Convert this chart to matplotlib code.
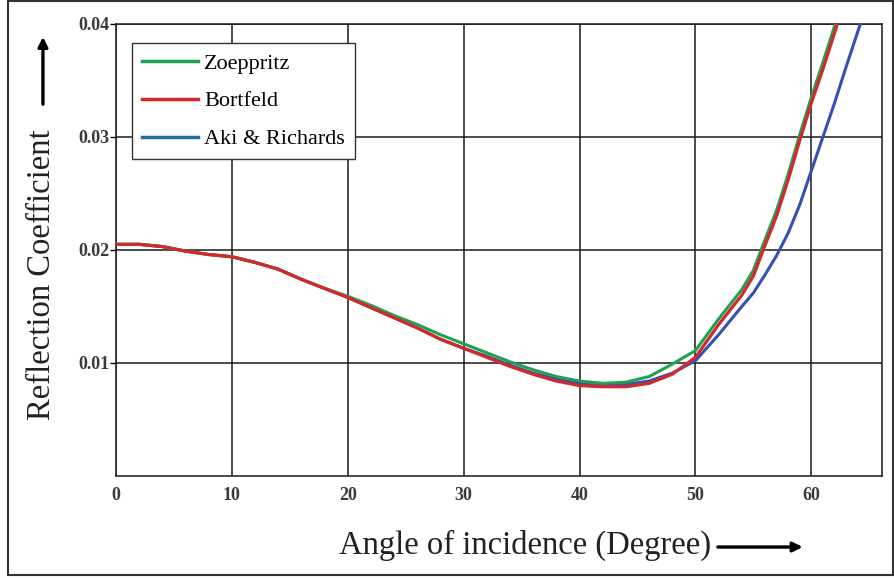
import matplotlib
matplotlib.use("Agg")
from matplotlib import pyplot as plt
from matplotlib.lines import Line2D
from matplotlib.patches import Rectangle, FancyArrowPatch

plt.rcParams["font.family"] = ["Liberation Serif", "DejaVu Serif"]

# Reflection coefficient vs angle of incidence for three approximations
angle_bortfeld = [0, 2, 4, 6, 8, 10, 12, 14, 16, 18, 20, 22, 24, 26, 28, 30, 32, 34, 36, 38,
                  40, 42, 44, 46, 48, 50, 52, 54, 55, 56, 57, 58, 59, 60, 61, 62, 62.5]
rc_bortfeld = [0.0205, 0.0205, 0.0203, 0.0199, 0.0196, 0.0194, 0.0189, 0.0183, 0.0174, 0.0166,
               0.0158, 0.0149, 0.0140, 0.0131, 0.0121, 0.0113, 0.0105, 0.0097, 0.0090, 0.0084,
               0.0080, 0.0079, 0.0079, 0.0082, 0.0090, 0.0105, 0.0134, 0.0160, 0.0177, 0.0204,
               0.0230, 0.0262, 0.0297, 0.0330, 0.0360, 0.0392, 0.0408]

angle_zoeppritz = [0, 2, 4, 6, 8, 10, 12, 14, 16, 18, 20, 22, 24, 26, 28, 30, 32, 34, 36, 38,
                   40, 42, 44, 46, 48, 50, 52, 54, 55, 56, 57, 58, 59, 60, 61, 62, 62.3]
rc_zoeppritz = [0.0205, 0.0205, 0.0203, 0.0199, 0.0196, 0.0194, 0.0189, 0.0183, 0.0174, 0.0166,
                0.0159, 0.0151, 0.0142, 0.0134, 0.0125, 0.0117, 0.0109, 0.0101, 0.0094, 0.0088,
                0.0084, 0.0082, 0.0083, 0.0088, 0.0099, 0.0111, 0.0139, 0.0165, 0.0182, 0.0209,
                0.0235, 0.0267, 0.0302, 0.0335, 0.0366, 0.0398, 0.0406]

angle_aki = [0, 2, 4, 6, 8, 10, 12, 14, 16, 18, 20, 22, 24, 26, 28, 30, 32, 34, 36, 38,
             40, 42, 44, 46, 48, 50, 52, 54, 55, 56, 57, 58, 59, 60, 61, 62, 63, 64, 64.5]
rc_aki = [0.0205, 0.0205, 0.0203, 0.0199, 0.0196, 0.0194, 0.0189, 0.0183, 0.0174, 0.0166,
          0.0158, 0.0149, 0.0140, 0.0131, 0.0121, 0.0113, 0.0106, 0.0098, 0.0091, 0.0086,
          0.0082, 0.0081, 0.0081, 0.0084, 0.0091, 0.0102, 0.0125, 0.0150, 0.0162, 0.0178,
          0.0195, 0.0215, 0.0240, 0.0270, 0.0300, 0.0330, 0.0362, 0.0393, 0.0408]

x_ticks = [0, 10, 20, 30, 40, 50, 60]
y_ticks = [0.01, 0.02, 0.03, 0.04]
y_tick_labels = ["0.01", "0.02", "0.03", "0.04"]

fig = plt.figure(figsize=(8.95, 5.78), dpi=100)
ax = fig.add_axes([0.1296, 0.1765, 0.8559, 0.782])

ax.plot(angle_aki, rc_aki, color="#3450b4", lw=2.2, zorder=3)
ax.plot(angle_zoeppritz, rc_zoeppritz, color="#22a052", lw=2.2, zorder=4)
ax.plot(angle_bortfeld, rc_bortfeld, color="#d22a2a", lw=2.3, zorder=5)

ax.set_xlim(0, 66.1)
ax.set_ylim(0, 0.04)
ax.set_xticks(x_ticks)
ax.set_yticks(y_ticks)
ax.set_yticklabels(y_tick_labels)
ax.grid(True, color="#1a1a1a", lw=1.1)
ax.set_axisbelow(True)
for sp in ax.spines.values():
    sp.set_color("#1a1a1a")
    sp.set_linewidth(1.1)
ax.tick_params(axis="x", length=0, pad=8, labelsize=13)
ax.tick_params(axis="y", length=4, width=1, pad=1, labelsize=13)
for lbl in ax.get_xticklabels() + ax.get_yticklabels():
    lbl.set_fontweight("bold")
    lbl.set_color("#3a3a3a")

handles = [
    Line2D([], [], color="#22a052", lw=2.5),
    Line2D([], [], color="#d22a2a", lw=2.5),
    Line2D([], [], color="#1f6ea0", lw=2.5),
]
leg = ax.legend(handles, ["Zoeppritz", "Bortfeld", "Aki & Richards"],
                loc="upper left", bbox_to_anchor=(0.021, 0.958), fontsize=16,
                handlelength=2.5, handletextpad=0.3, labelspacing=0.78,
                borderpad=0.45, borderaxespad=0, fancybox=False, framealpha=1)
leg.get_frame().set_edgecolor("#333333")
leg.get_frame().set_linewidth(1.0)

fig.text(0.047, 0.524, "Reflection Coefficient", rotation=90, fontsize=23.5,
         ha="center", va="center", color="#222222")
fig.text(0.587, 0.057, "Angle of incidence (Degree)", fontsize=23.5,
         ha="center", va="center", color="#222222")

# direction arrows next to the axis titles
fig.add_artist(FancyArrowPatch(
    (0.048, 0.815), (0.048, 0.941), transform=fig.transFigure,
    arrowstyle="-|>", mutation_scale=14, lw=2.4, color="black"))
fig.add_artist(FancyArrowPatch(
    (0.799, 0.0536), (0.9, 0.0536), transform=fig.transFigure,
    arrowstyle="-|>", mutation_scale=14, lw=2.4, color="black"))

# outer frame
fig.add_artist(Rectangle((0.009, 0.006), 0.989, 0.992, transform=fig.transFigure,
                         fill=False, lw=1.5, edgecolor="#333333"))

fig.savefig("out.png", dpi=100)
